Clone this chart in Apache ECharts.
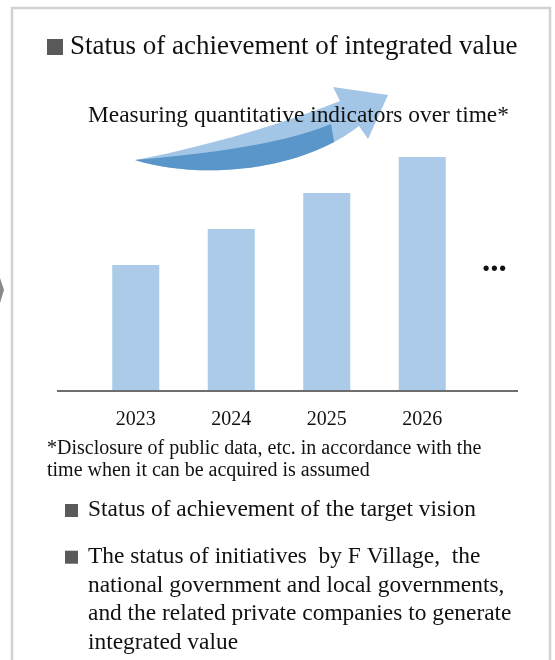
<!DOCTYPE html>
<html>
<head>
<meta charset="utf-8">
<script src="https://cdn.jsdelivr.net/npm/echarts@6/dist/echarts.min.js"></script>
<style>
  html, body { margin: 0; padding: 0; background: #fff; }
  #chart { width: 555px; height: 660px; }
</style>
</head>
<body>
<div id="chart"></div>
<script>
// Years on the horizontal axis and the indicator level measured for each
const years = ['2023', '2024', '2025', '2026'];
const indicatorValues = [3.5, 4.5, 5.5, 6.5];

// Panel texts
const headingText = 'Status of achievement of integrated value';
const arrowCaption = 'Measuring quantitative indicators over time*';
const footnoteLines = [
  '*Disclosure of public data, etc. in accordance with the',
  'time when it can be acquired is assumed'
];
const bulletItems = [
  ['Status of achievement of the target vision'],
  ['The status of initiatives  by F Village,  the',
   'national government and local governments,',
   'and the related private companies to generate',
   'integrated value']
];

const SERIF = '"Liberation Serif", "Times New Roman", serif';

// Curved rising arrow outlines, registered as graphic shapes
echarts.graphic.registerShape('arrowLight', echarts.graphic.extendPath(
  'M135,160 C190,150 272,128 340,101 L333,87 L388,95 L368,139 L359,126 C300,172 200,180 135,160 Z', {}));
echarts.graphic.registerShape('arrowDark', echarts.graphic.extendPath(
  'M334.1,142 C274.6,173.6 191.6,177.4 135,160 C190,155 275,147 331,124 Z', {}));

function textEl(str, x, y, size, extra) {
  return Object.assign({
    type: 'text', x: x, y: y, z: 20,
    style: {
      text: str, font: size + 'px ' + SERIF, fill: '#111',
      textAlign: 'left', textVerticalAlign: 'middle',
      align: 'left', verticalAlign: 'middle'
    }
  }, extra || {});
}

const graphics = [];

// outer panel frame
graphics.push({
  type: 'rect', z: 1,
  shape: { x: 12, y: 8, width: 538, height: 700 },
  style: { fill: 'none', stroke: '#d2d2d2', lineWidth: 2.5 }
});
// chevron of the neighbouring panel peeking in at the left edge
graphics.push({
  type: 'polygon', z: 1,
  shape: { points: [[0, 278], [4, 290], [0, 303]] },
  style: { fill: '#8a8a8a' }
});

// heading with square marker
graphics.push({ type: 'rect', z: 20, shape: { x: 47, y: 39, width: 16, height: 16 }, style: { fill: '#5a5a5a' } });
graphics.push(textEl(headingText, 70, 47, 27));

// arrow: light body + head, darker lower band
graphics.push({ type: 'arrowLight', z: 5, style: { fill: '#a3c6e7' } });
graphics.push({ type: 'arrowDark', z: 6, style: { fill: '#5a96ca' } });
graphics.push(textEl(arrowCaption, 88, 116, 23.4));

// continuation marker after the last year
graphics.push(textEl('...', 482, 262, 33, { style: {
  text: '...', font: 'bold 33px ' + SERIF, fill: '#111',
  textAlign: 'left', textVerticalAlign: 'middle', align: 'left', verticalAlign: 'middle'
} }));

// baseline under the bars
graphics.push({
  type: 'line', z: 10,
  shape: { x1: 57, y1: 391, x2: 518, y2: 391 },
  style: { stroke: '#6e6e6e', lineWidth: 2 }
});

// footnote
footnoteLines.forEach(function (line, i) {
  graphics.push(textEl(line, 47, 449 + i * 22, 20));
});

// bullet list
let lineY = 510;
bulletItems.forEach(function (item) {
  graphics.push({ type: 'rect', z: 20, shape: { x: 65, y: lineY - 6, width: 13, height: 13 }, style: { fill: '#5a5a5a' } });
  item.forEach(function (line) {
    graphics.push(textEl(line, 88, lineY, 23.4));
    lineY += 28.7;
  });
  lineY += 18;
});

const chart = echarts.init(document.getElementById('chart'), null, { renderer: 'canvas' });
chart.setOption({
  animation: false,
  backgroundColor: '#ffffff',
  grid: { left: 88, right: 85, top: 139, bottom: 269, containLabel: false },
  xAxis: {
    type: 'category',
    data: years,
    axisLine: { show: false },
    axisTick: { show: false },
    axisLabel: {
      margin: 19,
      fontFamily: SERIF,
      fontSize: 20,
      color: '#111'
    }
  },
  yAxis: {
    type: 'value',
    min: 0,
    max: 7,
    show: false
  },
  series: [{
    type: 'bar',
    data: indicatorValues,
    barWidth: 47,
    itemStyle: { color: '#abcbe8' },
    z: 2
  }],
  graphic: graphics
});
</script>
</body>
</html>
